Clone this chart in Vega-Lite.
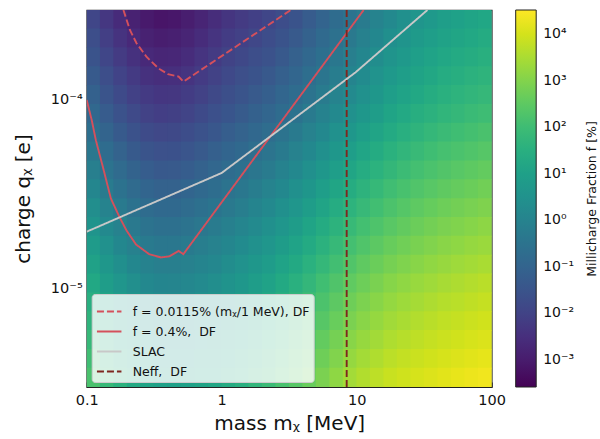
{
"$schema": "https://vega.github.io/schema/vega-lite/v6.json",
"width": 405, "height": 377,
"autosize": {"type": "none"},
"padding": {"left": 86.7, "top": 10, "right": 108.3, "bottom": 52},
"background": "white",
"config": {
  "font": "DejaVu Sans",
  "view": {"stroke": "#222222", "strokeWidth": 1.2},
  "axis": {"grid": false, "domain": false, "tickColor": "#222222", "labelColor": "#111111", "titleColor": "#111111", "titleFontWeight": "normal", "labelFont": "DejaVu Sans", "titleFont": "DejaVu Sans"},
  "legend": {"labelFont": "DejaVu Sans", "titleFont": "DejaVu Sans"}
},
"datasets": {
"heat": [
{"m":0.1122,"q":2.673e-4,"lf":-1.90},{"m":0.1122,"q":2.123e-4,"lf":-1.70},{"m":0.1122,"q":1.687e-4,"lf":-1.51},{"m":0.1122,"q":1.34e-4,"lf":-1.31},{"m":0.1122,"q":1.064e-4,"lf":-1.11},{"m":0.1122,"q":8.454e-5,"lf":-0.88},{"m":0.1122,"q":6.715e-5,"lf":-0.63},{"m":0.1122,"q":5.334e-5,"lf":-0.38},{"m":0.1122,"q":4.237e-5,"lf":-0.12},{"m":0.1122,"q":3.366e-5,"lf":0.13},{"m":0.1122,"q":2.673e-5,"lf":0.37},{"m":0.1122,"q":2.123e-5,"lf":0.60},{"m":0.1122,"q":1.687e-5,"lf":0.83},{"m":0.1122,"q":1.34e-5,"lf":1.06},{"m":0.1122,"q":1.064e-5,"lf":1.29},{"m":0.1122,"q":8.454e-6,"lf":1.50},{"m":0.1122,"q":6.715e-6,"lf":1.67},{"m":0.1122,"q":5.334e-6,"lf":1.85},{"m":0.1122,"q":4.237e-6,"lf":2.03},{"m":0.1122,"q":3.366e-6,"lf":2.20},
{"m":0.1413,"q":2.673e-4,"lf":-2.30},{"m":0.1413,"q":2.123e-4,"lf":-2.10},{"m":0.1413,"q":1.687e-4,"lf":-1.90},{"m":0.1413,"q":1.34e-4,"lf":-1.70},{"m":0.1413,"q":1.064e-4,"lf":-1.50},{"m":0.1413,"q":8.454e-5,"lf":-1.27},{"m":0.1413,"q":6.715e-5,"lf":-1.02},{"m":0.1413,"q":5.334e-5,"lf":-0.76},{"m":0.1413,"q":4.237e-5,"lf":-0.51},{"m":0.1413,"q":3.366e-5,"lf":-0.25},{"m":0.1413,"q":2.673e-5,"lf":-0.01},{"m":0.1413,"q":2.123e-5,"lf":0.23},{"m":0.1413,"q":1.687e-5,"lf":0.46},{"m":0.1413,"q":1.34e-5,"lf":0.69},{"m":0.1413,"q":1.064e-5,"lf":0.92},{"m":0.1413,"q":8.454e-6,"lf":1.13},{"m":0.1413,"q":6.715e-6,"lf":1.31},{"m":0.1413,"q":5.334e-6,"lf":1.49},{"m":0.1413,"q":4.237e-6,"lf":1.66},{"m":0.1413,"q":3.366e-6,"lf":1.84},
{"m":0.1778,"q":2.673e-4,"lf":-2.60},{"m":0.1778,"q":2.123e-4,"lf":-2.40},{"m":0.1778,"q":1.687e-4,"lf":-2.20},{"m":0.1778,"q":1.34e-4,"lf":-1.99},{"m":0.1778,"q":1.064e-4,"lf":-1.79},{"m":0.1778,"q":8.454e-5,"lf":-1.56},{"m":0.1778,"q":6.715e-5,"lf":-1.31},{"m":0.1778,"q":5.334e-5,"lf":-1.05},{"m":0.1778,"q":4.237e-5,"lf":-0.79},{"m":0.1778,"q":3.366e-5,"lf":-0.53},{"m":0.1778,"q":2.673e-5,"lf":-0.29},{"m":0.1778,"q":2.123e-5,"lf":-0.05},{"m":0.1778,"q":1.687e-5,"lf":0.18},{"m":0.1778,"q":1.34e-5,"lf":0.42},{"m":0.1778,"q":1.064e-5,"lf":0.65},{"m":0.1778,"q":8.454e-6,"lf":0.86},{"m":0.1778,"q":6.715e-6,"lf":1.04},{"m":0.1778,"q":5.334e-6,"lf":1.22},{"m":0.1778,"q":4.237e-6,"lf":1.40},{"m":0.1778,"q":3.366e-6,"lf":1.58},
{"m":0.2239,"q":2.673e-4,"lf":-2.85},{"m":0.2239,"q":2.123e-4,"lf":-2.65},{"m":0.2239,"q":1.687e-4,"lf":-2.45},{"m":0.2239,"q":1.34e-4,"lf":-2.24},{"m":0.2239,"q":1.064e-4,"lf":-2.04},{"m":0.2239,"q":8.454e-5,"lf":-1.81},{"m":0.2239,"q":6.715e-5,"lf":-1.56},{"m":0.2239,"q":5.334e-5,"lf":-1.30},{"m":0.2239,"q":4.237e-5,"lf":-1.04},{"m":0.2239,"q":3.366e-5,"lf":-0.78},{"m":0.2239,"q":2.673e-5,"lf":-0.54},{"m":0.2239,"q":2.123e-5,"lf":-0.30},{"m":0.2239,"q":1.687e-5,"lf":-0.07},{"m":0.2239,"q":1.34e-5,"lf":0.17},{"m":0.2239,"q":1.064e-5,"lf":0.40},{"m":0.2239,"q":8.454e-6,"lf":0.61},{"m":0.2239,"q":6.715e-6,"lf":0.79},{"m":0.2239,"q":5.334e-6,"lf":0.97},{"m":0.2239,"q":4.237e-6,"lf":1.15},{"m":0.2239,"q":3.366e-6,"lf":1.33},
{"m":0.2818,"q":2.673e-4,"lf":-3.05},{"m":0.2818,"q":2.123e-4,"lf":-2.85},{"m":0.2818,"q":1.687e-4,"lf":-2.65},{"m":0.2818,"q":1.34e-4,"lf":-2.44},{"m":0.2818,"q":1.064e-4,"lf":-2.24},{"m":0.2818,"q":8.454e-5,"lf":-2.01},{"m":0.2818,"q":6.715e-5,"lf":-1.76},{"m":0.2818,"q":5.334e-5,"lf":-1.50},{"m":0.2818,"q":4.237e-5,"lf":-1.24},{"m":0.2818,"q":3.366e-5,"lf":-0.98},{"m":0.2818,"q":2.673e-5,"lf":-0.74},{"m":0.2818,"q":2.123e-5,"lf":-0.50},{"m":0.2818,"q":1.687e-5,"lf":-0.27},{"m":0.2818,"q":1.34e-5,"lf":-0.03},{"m":0.2818,"q":1.064e-5,"lf":0.20},{"m":0.2818,"q":8.454e-6,"lf":0.41},{"m":0.2818,"q":6.715e-6,"lf":0.59},{"m":0.2818,"q":5.334e-6,"lf":0.77},{"m":0.2818,"q":4.237e-6,"lf":0.95},{"m":0.2818,"q":3.366e-6,"lf":1.13},
{"m":0.3548,"q":2.673e-4,"lf":-3.15},{"m":0.3548,"q":2.123e-4,"lf":-2.95},{"m":0.3548,"q":1.687e-4,"lf":-2.75},{"m":0.3548,"q":1.34e-4,"lf":-2.54},{"m":0.3548,"q":1.064e-4,"lf":-2.34},{"m":0.3548,"q":8.454e-5,"lf":-2.11},{"m":0.3548,"q":6.715e-5,"lf":-1.86},{"m":0.3548,"q":5.334e-5,"lf":-1.60},{"m":0.3548,"q":4.237e-5,"lf":-1.34},{"m":0.3548,"q":3.366e-5,"lf":-1.08},{"m":0.3548,"q":2.673e-5,"lf":-0.84},{"m":0.3548,"q":2.123e-5,"lf":-0.60},{"m":0.3548,"q":1.687e-5,"lf":-0.37},{"m":0.3548,"q":1.34e-5,"lf":-0.13},{"m":0.3548,"q":1.064e-5,"lf":0.10},{"m":0.3548,"q":8.454e-6,"lf":0.31},{"m":0.3548,"q":6.715e-6,"lf":0.49},{"m":0.3548,"q":5.334e-6,"lf":0.67},{"m":0.3548,"q":4.237e-6,"lf":0.85},{"m":0.3548,"q":3.366e-6,"lf":1.03},
{"m":0.4467,"q":2.673e-4,"lf":-3.10},{"m":0.4467,"q":2.123e-4,"lf":-2.90},{"m":0.4467,"q":1.687e-4,"lf":-2.71},{"m":0.4467,"q":1.34e-4,"lf":-2.51},{"m":0.4467,"q":1.064e-4,"lf":-2.31},{"m":0.4467,"q":8.454e-5,"lf":-2.08},{"m":0.4467,"q":6.715e-5,"lf":-1.83},{"m":0.4467,"q":5.334e-5,"lf":-1.58},{"m":0.4467,"q":4.237e-5,"lf":-1.32},{"m":0.4467,"q":3.366e-5,"lf":-1.07},{"m":0.4467,"q":2.673e-5,"lf":-0.83},{"m":0.4467,"q":2.123e-5,"lf":-0.60},{"m":0.4467,"q":1.687e-5,"lf":-0.37},{"m":0.4467,"q":1.34e-5,"lf":-0.14},{"m":0.4467,"q":1.064e-5,"lf":0.09},{"m":0.4467,"q":8.454e-6,"lf":0.30},{"m":0.4467,"q":6.715e-6,"lf":0.47},{"m":0.4467,"q":5.334e-6,"lf":0.65},{"m":0.4467,"q":4.237e-6,"lf":0.83},{"m":0.4467,"q":3.366e-6,"lf":1.00},
{"m":0.5623,"q":2.673e-4,"lf":-2.95},{"m":0.5623,"q":2.123e-4,"lf":-2.76},{"m":0.5623,"q":1.687e-4,"lf":-2.57},{"m":0.5623,"q":1.34e-4,"lf":-2.38},{"m":0.5623,"q":1.064e-4,"lf":-2.18},{"m":0.5623,"q":8.454e-5,"lf":-1.96},{"m":0.5623,"q":6.715e-5,"lf":-1.72},{"m":0.5623,"q":5.334e-5,"lf":-1.47},{"m":0.5623,"q":4.237e-5,"lf":-1.23},{"m":0.5623,"q":3.366e-5,"lf":-0.98},{"m":0.5623,"q":2.673e-5,"lf":-0.74},{"m":0.5623,"q":2.123e-5,"lf":-0.52},{"m":0.5623,"q":1.687e-5,"lf":-0.29},{"m":0.5623,"q":1.34e-5,"lf":-0.07},{"m":0.5623,"q":1.064e-5,"lf":0.16},{"m":0.5623,"q":8.454e-6,"lf":0.35},{"m":0.5623,"q":6.715e-6,"lf":0.52},{"m":0.5623,"q":5.334e-6,"lf":0.70},{"m":0.5623,"q":4.237e-6,"lf":0.87},{"m":0.5623,"q":3.366e-6,"lf":1.04},
{"m":0.7079,"q":2.673e-4,"lf":-2.76},{"m":0.7079,"q":2.123e-4,"lf":-2.57},{"m":0.7079,"q":1.687e-4,"lf":-2.38},{"m":0.7079,"q":1.34e-4,"lf":-2.19},{"m":0.7079,"q":1.064e-4,"lf":-2.01},{"m":0.7079,"q":8.454e-5,"lf":-1.79},{"m":0.7079,"q":6.715e-5,"lf":-1.56},{"m":0.7079,"q":5.334e-5,"lf":-1.32},{"m":0.7079,"q":4.237e-5,"lf":-1.08},{"m":0.7079,"q":3.366e-5,"lf":-0.84},{"m":0.7079,"q":2.673e-5,"lf":-0.61},{"m":0.7079,"q":2.123e-5,"lf":-0.39},{"m":0.7079,"q":1.687e-5,"lf":-0.17},{"m":0.7079,"q":1.34e-5,"lf":0.05},{"m":0.7079,"q":1.064e-5,"lf":0.26},{"m":0.7079,"q":8.454e-6,"lf":0.46},{"m":0.7079,"q":6.715e-6,"lf":0.62},{"m":0.7079,"q":5.334e-6,"lf":0.79},{"m":0.7079,"q":4.237e-6,"lf":0.96},{"m":0.7079,"q":3.366e-6,"lf":1.12},
{"m":0.8913,"q":2.673e-4,"lf":-2.56},{"m":0.8913,"q":2.123e-4,"lf":-2.38},{"m":0.8913,"q":1.687e-4,"lf":-2.20},{"m":0.8913,"q":1.34e-4,"lf":-2.01},{"m":0.8913,"q":1.064e-4,"lf":-1.83},{"m":0.8913,"q":8.454e-5,"lf":-1.62},{"m":0.8913,"q":6.715e-5,"lf":-1.39},{"m":0.8913,"q":5.334e-5,"lf":-1.16},{"m":0.8913,"q":4.237e-5,"lf":-0.93},{"m":0.8913,"q":3.366e-5,"lf":-0.70},{"m":0.8913,"q":2.673e-5,"lf":-0.47},{"m":0.8913,"q":2.123e-5,"lf":-0.26},{"m":0.8913,"q":1.687e-5,"lf":-0.05},{"m":0.8913,"q":1.34e-5,"lf":0.16},{"m":0.8913,"q":1.064e-5,"lf":0.38},{"m":0.8913,"q":8.454e-6,"lf":0.56},{"m":0.8913,"q":6.715e-6,"lf":0.72},{"m":0.8913,"q":5.334e-6,"lf":0.89},{"m":0.8913,"q":4.237e-6,"lf":1.05},{"m":0.8913,"q":3.366e-6,"lf":1.21},
{"m":1.122,"q":2.673e-4,"lf":-2.36},{"m":1.122,"q":2.123e-4,"lf":-2.18},{"m":1.122,"q":1.687e-4,"lf":-2.00},{"m":1.122,"q":1.34e-4,"lf":-1.82},{"m":1.122,"q":1.064e-4,"lf":-1.64},{"m":1.122,"q":8.454e-5,"lf":-1.44},{"m":1.122,"q":6.715e-5,"lf":-1.21},{"m":1.122,"q":5.334e-5,"lf":-0.98},{"m":1.122,"q":4.237e-5,"lf":-0.75},{"m":1.122,"q":3.366e-5,"lf":-0.52},{"m":1.122,"q":2.673e-5,"lf":-0.30},{"m":1.122,"q":2.123e-5,"lf":-0.09},{"m":1.122,"q":1.687e-5,"lf":0.13},{"m":1.122,"q":1.34e-5,"lf":0.34},{"m":1.122,"q":1.064e-5,"lf":0.55},{"m":1.122,"q":8.454e-6,"lf":0.73},{"m":1.122,"q":6.715e-6,"lf":0.89},{"m":1.122,"q":5.334e-6,"lf":1.05},{"m":1.122,"q":4.237e-6,"lf":1.21},{"m":1.122,"q":3.366e-6,"lf":1.37},
{"m":1.413,"q":2.673e-4,"lf":-2.21},{"m":1.413,"q":2.123e-4,"lf":-2.03},{"m":1.413,"q":1.687e-4,"lf":-1.85},{"m":1.413,"q":1.34e-4,"lf":-1.67},{"m":1.413,"q":1.064e-4,"lf":-1.49},{"m":1.413,"q":8.454e-5,"lf":-1.29},{"m":1.413,"q":6.715e-5,"lf":-1.06},{"m":1.413,"q":5.334e-5,"lf":-0.83},{"m":1.413,"q":4.237e-5,"lf":-0.60},{"m":1.413,"q":3.366e-5,"lf":-0.37},{"m":1.413,"q":2.673e-5,"lf":-0.15},{"m":1.413,"q":2.123e-5,"lf":0.07},{"m":1.413,"q":1.687e-5,"lf":0.28},{"m":1.413,"q":1.34e-5,"lf":0.49},{"m":1.413,"q":1.064e-5,"lf":0.70},{"m":1.413,"q":8.454e-6,"lf":0.88},{"m":1.413,"q":6.715e-6,"lf":1.04},{"m":1.413,"q":5.334e-6,"lf":1.20},{"m":1.413,"q":4.237e-6,"lf":1.36},{"m":1.413,"q":3.366e-6,"lf":1.52},
{"m":1.778,"q":2.673e-4,"lf":-2.06},{"m":1.778,"q":2.123e-4,"lf":-1.87},{"m":1.778,"q":1.687e-4,"lf":-1.69},{"m":1.778,"q":1.34e-4,"lf":-1.51},{"m":1.778,"q":1.064e-4,"lf":-1.32},{"m":1.778,"q":8.454e-5,"lf":-1.11},{"m":1.778,"q":6.715e-5,"lf":-0.88},{"m":1.778,"q":5.334e-5,"lf":-0.65},{"m":1.778,"q":4.237e-5,"lf":-0.41},{"m":1.778,"q":3.366e-5,"lf":-0.18},{"m":1.778,"q":2.673e-5,"lf":0.05},{"m":1.778,"q":2.123e-5,"lf":0.26},{"m":1.778,"q":1.687e-5,"lf":0.48},{"m":1.778,"q":1.34e-5,"lf":0.69},{"m":1.778,"q":1.064e-5,"lf":0.90},{"m":1.778,"q":8.454e-6,"lf":1.09},{"m":1.778,"q":6.715e-6,"lf":1.26},{"m":1.778,"q":5.334e-6,"lf":1.42},{"m":1.778,"q":4.237e-6,"lf":1.58},{"m":1.778,"q":3.366e-6,"lf":1.75},
{"m":2.239,"q":2.673e-4,"lf":-1.91},{"m":2.239,"q":2.123e-4,"lf":-1.72},{"m":2.239,"q":1.687e-4,"lf":-1.54},{"m":2.239,"q":1.34e-4,"lf":-1.35},{"m":2.239,"q":1.064e-4,"lf":-1.17},{"m":2.239,"q":8.454e-5,"lf":-0.95},{"m":2.239,"q":6.715e-5,"lf":-0.72},{"m":2.239,"q":5.334e-5,"lf":-0.48},{"m":2.239,"q":4.237e-5,"lf":-0.24},{"m":2.239,"q":3.366e-5,"lf":-0.01},{"m":2.239,"q":2.673e-5,"lf":0.22},{"m":2.239,"q":2.123e-5,"lf":0.44},{"m":2.239,"q":1.687e-5,"lf":0.65},{"m":2.239,"q":1.34e-5,"lf":0.87},{"m":2.239,"q":1.064e-5,"lf":1.08},{"m":2.239,"q":8.454e-6,"lf":1.28},{"m":2.239,"q":6.715e-6,"lf":1.44},{"m":2.239,"q":5.334e-6,"lf":1.61},{"m":2.239,"q":4.237e-6,"lf":1.77},{"m":2.239,"q":3.366e-6,"lf":1.93},
{"m":2.818,"q":2.673e-4,"lf":-1.71},{"m":2.818,"q":2.123e-4,"lf":-1.52},{"m":2.818,"q":1.687e-4,"lf":-1.33},{"m":2.818,"q":1.34e-4,"lf":-1.14},{"m":2.818,"q":1.064e-4,"lf":-0.96},{"m":2.818,"q":8.454e-5,"lf":-0.74},{"m":2.818,"q":6.715e-5,"lf":-0.51},{"m":2.818,"q":5.334e-5,"lf":-0.27},{"m":2.818,"q":4.237e-5,"lf":-0.03},{"m":2.818,"q":3.366e-5,"lf":0.21},{"m":2.818,"q":2.673e-5,"lf":0.44},{"m":2.818,"q":2.123e-5,"lf":0.66},{"m":2.818,"q":1.687e-5,"lf":0.88},{"m":2.818,"q":1.34e-5,"lf":1.10},{"m":2.818,"q":1.064e-5,"lf":1.31},{"m":2.818,"q":8.454e-6,"lf":1.51},{"m":2.818,"q":6.715e-6,"lf":1.67},{"m":2.818,"q":5.334e-6,"lf":1.84},{"m":2.818,"q":4.237e-6,"lf":2.01},{"m":2.818,"q":3.366e-6,"lf":2.17},
{"m":3.548,"q":2.673e-4,"lf":-1.51},{"m":3.548,"q":2.123e-4,"lf":-1.32},{"m":3.548,"q":1.687e-4,"lf":-1.13},{"m":3.548,"q":1.34e-4,"lf":-0.94},{"m":3.548,"q":1.064e-4,"lf":-0.75},{"m":3.548,"q":8.454e-5,"lf":-0.53},{"m":3.548,"q":6.715e-5,"lf":-0.29},{"m":3.548,"q":5.334e-5,"lf":-0.05},{"m":3.548,"q":4.237e-5,"lf":0.19},{"m":3.548,"q":3.366e-5,"lf":0.43},{"m":3.548,"q":2.673e-5,"lf":0.66},{"m":3.548,"q":2.123e-5,"lf":0.88},{"m":3.548,"q":1.687e-5,"lf":1.10},{"m":3.548,"q":1.34e-5,"lf":1.32},{"m":3.548,"q":1.064e-5,"lf":1.54},{"m":3.548,"q":8.454e-6,"lf":1.74},{"m":3.548,"q":6.715e-6,"lf":1.91},{"m":3.548,"q":5.334e-6,"lf":2.08},{"m":3.548,"q":4.237e-6,"lf":2.24},{"m":3.548,"q":3.366e-6,"lf":2.41},
{"m":4.467,"q":2.673e-4,"lf":-1.26},{"m":4.467,"q":2.123e-4,"lf":-1.07},{"m":4.467,"q":1.687e-4,"lf":-0.88},{"m":4.467,"q":1.34e-4,"lf":-0.69},{"m":4.467,"q":1.064e-4,"lf":-0.50},{"m":4.467,"q":8.454e-5,"lf":-0.28},{"m":4.467,"q":6.715e-5,"lf":-0.04},{"m":4.467,"q":5.334e-5,"lf":0.20},{"m":4.467,"q":4.237e-5,"lf":0.44},{"m":4.467,"q":3.366e-5,"lf":0.68},{"m":4.467,"q":2.673e-5,"lf":0.91},{"m":4.467,"q":2.123e-5,"lf":1.13},{"m":4.467,"q":1.687e-5,"lf":1.35},{"m":4.467,"q":1.34e-5,"lf":1.57},{"m":4.467,"q":1.064e-5,"lf":1.79},{"m":4.467,"q":8.454e-6,"lf":1.99},{"m":4.467,"q":6.715e-6,"lf":2.16},{"m":4.467,"q":5.334e-6,"lf":2.33},{"m":4.467,"q":4.237e-6,"lf":2.49},{"m":4.467,"q":3.366e-6,"lf":2.66},
{"m":5.623,"q":2.673e-4,"lf":-1.01},{"m":5.623,"q":2.123e-4,"lf":-0.82},{"m":5.623,"q":1.687e-4,"lf":-0.63},{"m":5.623,"q":1.34e-4,"lf":-0.44},{"m":5.623,"q":1.064e-4,"lf":-0.25},{"m":5.623,"q":8.454e-5,"lf":-0.03},{"m":5.623,"q":6.715e-5,"lf":0.21},{"m":5.623,"q":5.334e-5,"lf":0.45},{"m":5.623,"q":4.237e-5,"lf":0.69},{"m":5.623,"q":3.366e-5,"lf":0.93},{"m":5.623,"q":2.673e-5,"lf":1.16},{"m":5.623,"q":2.123e-5,"lf":1.38},{"m":5.623,"q":1.687e-5,"lf":1.60},{"m":5.623,"q":1.34e-5,"lf":1.82},{"m":5.623,"q":1.064e-5,"lf":2.04},{"m":5.623,"q":8.454e-6,"lf":2.24},{"m":5.623,"q":6.715e-6,"lf":2.41},{"m":5.623,"q":5.334e-6,"lf":2.58},{"m":5.623,"q":4.237e-6,"lf":2.74},{"m":5.623,"q":3.366e-6,"lf":2.91},
{"m":7.079,"q":2.673e-4,"lf":-0.76},{"m":7.079,"q":2.123e-4,"lf":-0.57},{"m":7.079,"q":1.687e-4,"lf":-0.38},{"m":7.079,"q":1.34e-4,"lf":-0.19},{"m":7.079,"q":1.064e-4,"lf":0.00},{"m":7.079,"q":8.454e-5,"lf":0.22},{"m":7.079,"q":6.715e-5,"lf":0.46},{"m":7.079,"q":5.334e-5,"lf":0.70},{"m":7.079,"q":4.237e-5,"lf":0.94},{"m":7.079,"q":3.366e-5,"lf":1.18},{"m":7.079,"q":2.673e-5,"lf":1.41},{"m":7.079,"q":2.123e-5,"lf":1.63},{"m":7.079,"q":1.687e-5,"lf":1.85},{"m":7.079,"q":1.34e-5,"lf":2.07},{"m":7.079,"q":1.064e-5,"lf":2.29},{"m":7.079,"q":8.454e-6,"lf":2.49},{"m":7.079,"q":6.715e-6,"lf":2.66},{"m":7.079,"q":5.334e-6,"lf":2.83},{"m":7.079,"q":4.237e-6,"lf":2.99},{"m":7.079,"q":3.366e-6,"lf":3.16},
{"m":8.913,"q":2.673e-4,"lf":-0.51},{"m":8.913,"q":2.123e-4,"lf":-0.32},{"m":8.913,"q":1.687e-4,"lf":-0.13},{"m":8.913,"q":1.34e-4,"lf":0.06},{"m":8.913,"q":1.064e-4,"lf":0.25},{"m":8.913,"q":8.454e-5,"lf":0.47},{"m":8.913,"q":6.715e-5,"lf":0.71},{"m":8.913,"q":5.334e-5,"lf":0.95},{"m":8.913,"q":4.237e-5,"lf":1.19},{"m":8.913,"q":3.366e-5,"lf":1.43},{"m":8.913,"q":2.673e-5,"lf":1.66},{"m":8.913,"q":2.123e-5,"lf":1.88},{"m":8.913,"q":1.687e-5,"lf":2.10},{"m":8.913,"q":1.34e-5,"lf":2.32},{"m":8.913,"q":1.064e-5,"lf":2.54},{"m":8.913,"q":8.454e-6,"lf":2.74},{"m":8.913,"q":6.715e-6,"lf":2.91},{"m":8.913,"q":5.334e-6,"lf":3.08},{"m":8.913,"q":4.237e-6,"lf":3.24},{"m":8.913,"q":3.366e-6,"lf":3.41},
{"m":11.22,"q":2.673e-4,"lf":-0.26},{"m":11.22,"q":2.123e-4,"lf":-0.07},{"m":11.22,"q":1.687e-4,"lf":0.11},{"m":11.22,"q":1.34e-4,"lf":0.30},{"m":11.22,"q":1.064e-4,"lf":0.48},{"m":11.22,"q":8.454e-5,"lf":0.70},{"m":11.22,"q":6.715e-5,"lf":0.93},{"m":11.22,"q":5.334e-5,"lf":1.17},{"m":11.22,"q":4.237e-5,"lf":1.41},{"m":11.22,"q":3.366e-5,"lf":1.64},{"m":11.22,"q":2.673e-5,"lf":1.87},{"m":11.22,"q":2.123e-5,"lf":2.09},{"m":11.22,"q":1.687e-5,"lf":2.30},{"m":11.22,"q":1.34e-5,"lf":2.52},{"m":11.22,"q":1.064e-5,"lf":2.73},{"m":11.22,"q":8.454e-6,"lf":2.93},{"m":11.22,"q":6.715e-6,"lf":3.09},{"m":11.22,"q":5.334e-6,"lf":3.26},{"m":11.22,"q":4.237e-6,"lf":3.42},{"m":11.22,"q":3.366e-6,"lf":3.58},
{"m":14.13,"q":2.673e-4,"lf":-0.01},{"m":14.13,"q":2.123e-4,"lf":0.17},{"m":14.13,"q":1.687e-4,"lf":0.35},{"m":14.13,"q":1.34e-4,"lf":0.53},{"m":14.13,"q":1.064e-4,"lf":0.71},{"m":14.13,"q":8.454e-5,"lf":0.92},{"m":14.13,"q":6.715e-5,"lf":1.15},{"m":14.13,"q":5.334e-5,"lf":1.38},{"m":14.13,"q":4.237e-5,"lf":1.61},{"m":14.13,"q":3.366e-5,"lf":1.84},{"m":14.13,"q":2.673e-5,"lf":2.06},{"m":14.13,"q":2.123e-5,"lf":2.27},{"m":14.13,"q":1.687e-5,"lf":2.48},{"m":14.13,"q":1.34e-5,"lf":2.69},{"m":14.13,"q":1.064e-5,"lf":2.90},{"m":14.13,"q":8.454e-6,"lf":3.08},{"m":14.13,"q":6.715e-6,"lf":3.24},{"m":14.13,"q":5.334e-6,"lf":3.40},{"m":14.13,"q":4.237e-6,"lf":3.56},{"m":14.13,"q":3.366e-6,"lf":3.72},
{"m":17.78,"q":2.673e-4,"lf":0.24},{"m":17.78,"q":2.123e-4,"lf":0.41},{"m":17.78,"q":1.687e-4,"lf":0.59},{"m":17.78,"q":1.34e-4,"lf":0.76},{"m":17.78,"q":1.064e-4,"lf":0.94},{"m":17.78,"q":8.454e-5,"lf":1.13},{"m":17.78,"q":6.715e-5,"lf":1.36},{"m":17.78,"q":5.334e-5,"lf":1.58},{"m":17.78,"q":4.237e-5,"lf":1.80},{"m":17.78,"q":3.366e-5,"lf":2.03},{"m":17.78,"q":2.673e-5,"lf":2.24},{"m":17.78,"q":2.123e-5,"lf":2.44},{"m":17.78,"q":1.687e-5,"lf":2.65},{"m":17.78,"q":1.34e-5,"lf":2.85},{"m":17.78,"q":1.064e-5,"lf":3.06},{"m":17.78,"q":8.454e-6,"lf":3.23},{"m":17.78,"q":6.715e-6,"lf":3.39},{"m":17.78,"q":5.334e-6,"lf":3.55},{"m":17.78,"q":4.237e-6,"lf":3.70},{"m":17.78,"q":3.366e-6,"lf":3.86},
{"m":22.39,"q":2.673e-4,"lf":0.43},{"m":22.39,"q":2.123e-4,"lf":0.60},{"m":22.39,"q":1.687e-4,"lf":0.77},{"m":22.39,"q":1.34e-4,"lf":0.94},{"m":22.39,"q":1.064e-4,"lf":1.11},{"m":22.39,"q":8.454e-5,"lf":1.30},{"m":22.39,"q":6.715e-5,"lf":1.52},{"m":22.39,"q":5.334e-5,"lf":1.74},{"m":22.39,"q":4.237e-5,"lf":1.95},{"m":22.39,"q":3.366e-5,"lf":2.17},{"m":22.39,"q":2.673e-5,"lf":2.38},{"m":22.39,"q":2.123e-5,"lf":2.57},{"m":22.39,"q":1.687e-5,"lf":2.77},{"m":22.39,"q":1.34e-5,"lf":2.97},{"m":22.39,"q":1.064e-5,"lf":3.17},{"m":22.39,"q":8.454e-6,"lf":3.34},{"m":22.39,"q":6.715e-6,"lf":3.49},{"m":22.39,"q":5.334e-6,"lf":3.64},{"m":22.39,"q":4.237e-6,"lf":3.79},{"m":22.39,"q":3.366e-6,"lf":3.94},
{"m":28.18,"q":2.673e-4,"lf":0.63},{"m":28.18,"q":2.123e-4,"lf":0.80},{"m":28.18,"q":1.687e-4,"lf":0.96},{"m":28.18,"q":1.34e-4,"lf":1.12},{"m":28.18,"q":1.064e-4,"lf":1.29},{"m":28.18,"q":8.454e-5,"lf":1.47},{"m":28.18,"q":6.715e-5,"lf":1.68},{"m":28.18,"q":5.334e-5,"lf":1.89},{"m":28.18,"q":4.237e-5,"lf":2.10},{"m":28.18,"q":3.366e-5,"lf":2.31},{"m":28.18,"q":2.673e-5,"lf":2.51},{"m":28.18,"q":2.123e-5,"lf":2.70},{"m":28.18,"q":1.687e-5,"lf":2.89},{"m":28.18,"q":1.34e-5,"lf":3.08},{"m":28.18,"q":1.064e-5,"lf":3.28},{"m":28.18,"q":8.454e-6,"lf":3.44},{"m":28.18,"q":6.715e-6,"lf":3.59},{"m":28.18,"q":5.334e-6,"lf":3.74},{"m":28.18,"q":4.237e-6,"lf":3.88},{"m":28.18,"q":3.366e-6,"lf":4.03},
{"m":35.48,"q":2.673e-4,"lf":0.78},{"m":35.48,"q":2.123e-4,"lf":0.94},{"m":35.48,"q":1.687e-4,"lf":1.10},{"m":35.48,"q":1.34e-4,"lf":1.26},{"m":35.48,"q":1.064e-4,"lf":1.42},{"m":35.48,"q":8.454e-5,"lf":1.60},{"m":35.48,"q":6.715e-5,"lf":1.81},{"m":35.48,"q":5.334e-5,"lf":2.01},{"m":35.48,"q":4.237e-5,"lf":2.22},{"m":35.48,"q":3.366e-5,"lf":2.42},{"m":35.48,"q":2.673e-5,"lf":2.62},{"m":35.48,"q":2.123e-5,"lf":2.80},{"m":35.48,"q":1.687e-5,"lf":2.99},{"m":35.48,"q":1.34e-5,"lf":3.18},{"m":35.48,"q":1.064e-5,"lf":3.37},{"m":35.48,"q":8.454e-6,"lf":3.53},{"m":35.48,"q":6.715e-6,"lf":3.67},{"m":35.48,"q":5.334e-6,"lf":3.82},{"m":35.48,"q":4.237e-6,"lf":3.96},{"m":35.48,"q":3.366e-6,"lf":4.10},
{"m":44.67,"q":2.673e-4,"lf":0.93},{"m":44.67,"q":2.123e-4,"lf":1.08},{"m":44.67,"q":1.687e-4,"lf":1.24},{"m":44.67,"q":1.34e-4,"lf":1.40},{"m":44.67,"q":1.064e-4,"lf":1.55},{"m":44.67,"q":8.454e-5,"lf":1.73},{"m":44.67,"q":6.715e-5,"lf":1.93},{"m":44.67,"q":5.334e-5,"lf":2.13},{"m":44.67,"q":4.237e-5,"lf":2.33},{"m":44.67,"q":3.366e-5,"lf":2.53},{"m":44.67,"q":2.673e-5,"lf":2.72},{"m":44.67,"q":2.123e-5,"lf":2.91},{"m":44.67,"q":1.687e-5,"lf":3.09},{"m":44.67,"q":1.34e-5,"lf":3.27},{"m":44.67,"q":1.064e-5,"lf":3.46},{"m":44.67,"q":8.454e-6,"lf":3.62},{"m":44.67,"q":6.715e-6,"lf":3.76},{"m":44.67,"q":5.334e-6,"lf":3.90},{"m":44.67,"q":4.237e-6,"lf":4.03},{"m":44.67,"q":3.366e-6,"lf":4.17},
{"m":56.23,"q":2.673e-4,"lf":1.03},{"m":56.23,"q":2.123e-4,"lf":1.18},{"m":56.23,"q":1.687e-4,"lf":1.34},{"m":56.23,"q":1.34e-4,"lf":1.49},{"m":56.23,"q":1.064e-4,"lf":1.65},{"m":56.23,"q":8.454e-5,"lf":1.82},{"m":56.23,"q":6.715e-5,"lf":2.02},{"m":56.23,"q":5.334e-5,"lf":2.22},{"m":56.23,"q":4.237e-5,"lf":2.42},{"m":56.23,"q":3.366e-5,"lf":2.61},{"m":56.23,"q":2.673e-5,"lf":2.80},{"m":56.23,"q":2.123e-5,"lf":2.98},{"m":56.23,"q":1.687e-5,"lf":3.16},{"m":56.23,"q":1.34e-5,"lf":3.35},{"m":56.23,"q":1.064e-5,"lf":3.53},{"m":56.23,"q":8.454e-6,"lf":3.68},{"m":56.23,"q":6.715e-6,"lf":3.82},{"m":56.23,"q":5.334e-6,"lf":3.96},{"m":56.23,"q":4.237e-6,"lf":4.10},{"m":56.23,"q":3.366e-6,"lf":4.24},
{"m":70.79,"q":2.673e-4,"lf":1.13},{"m":70.79,"q":2.123e-4,"lf":1.28},{"m":70.79,"q":1.687e-4,"lf":1.43},{"m":70.79,"q":1.34e-4,"lf":1.59},{"m":70.79,"q":1.064e-4,"lf":1.74},{"m":70.79,"q":8.454e-5,"lf":1.91},{"m":70.79,"q":6.715e-5,"lf":2.11},{"m":70.79,"q":5.334e-5,"lf":2.30},{"m":70.79,"q":4.237e-5,"lf":2.50},{"m":70.79,"q":3.366e-5,"lf":2.69},{"m":70.79,"q":2.673e-5,"lf":2.88},{"m":70.79,"q":2.123e-5,"lf":3.06},{"m":70.79,"q":1.687e-5,"lf":3.24},{"m":70.79,"q":1.34e-5,"lf":3.42},{"m":70.79,"q":1.064e-5,"lf":3.60},{"m":70.79,"q":8.454e-6,"lf":3.75},{"m":70.79,"q":6.715e-6,"lf":3.89},{"m":70.79,"q":5.334e-6,"lf":4.03},{"m":70.79,"q":4.237e-6,"lf":4.16},{"m":70.79,"q":3.366e-6,"lf":4.30},
{"m":89.13,"q":2.673e-4,"lf":1.23},{"m":89.13,"q":2.123e-4,"lf":1.38},{"m":89.13,"q":1.687e-4,"lf":1.53},{"m":89.13,"q":1.34e-4,"lf":1.68},{"m":89.13,"q":1.064e-4,"lf":1.83},{"m":89.13,"q":8.454e-5,"lf":2.00},{"m":89.13,"q":6.715e-5,"lf":2.20},{"m":89.13,"q":5.334e-5,"lf":2.39},{"m":89.13,"q":4.237e-5,"lf":2.58},{"m":89.13,"q":3.366e-5,"lf":2.78},{"m":89.13,"q":2.673e-5,"lf":2.96},{"m":89.13,"q":2.123e-5,"lf":3.14},{"m":89.13,"q":1.687e-5,"lf":3.31},{"m":89.13,"q":1.34e-5,"lf":3.49},{"m":89.13,"q":1.064e-5,"lf":3.67},{"m":89.13,"q":8.454e-6,"lf":3.82},{"m":89.13,"q":6.715e-6,"lf":3.96},{"m":89.13,"q":5.334e-6,"lf":4.09},{"m":89.13,"q":4.237e-6,"lf":4.22},{"m":89.13,"q":3.366e-6,"lf":4.36}
],
"curves": [
{"series":"f = 0.0115% (mᵪ/1 MeV), DF","o":1,"m":0.187,"q":3.0e-4},
{"series":"f = 0.0115% (mᵪ/1 MeV), DF","o":2,"m":0.209,"q":2.35e-4},
{"series":"f = 0.0115% (mᵪ/1 MeV), DF","o":3,"m":0.234,"q":2.0e-4},
{"series":"f = 0.0115% (mᵪ/1 MeV), DF","o":4,"m":0.278,"q":1.69e-4},
{"series":"f = 0.0115% (mᵪ/1 MeV), DF","o":5,"m":0.34,"q":1.47e-4},
{"series":"f = 0.0115% (mᵪ/1 MeV), DF","o":6,"m":0.40,"q":1.37e-4},
{"series":"f = 0.0115% (mᵪ/1 MeV), DF","o":7,"m":0.48,"q":1.33e-4},
{"series":"f = 0.0115% (mᵪ/1 MeV), DF","o":8,"m":0.52,"q":1.25e-4},
{"series":"f = 0.0115% (mᵪ/1 MeV), DF","o":9,"m":3.25,"q":3.0e-4},
{"series":"f = 0.4%,\u00a0 DF","o":1,"m":0.1,"q":1.0e-4},
{"series":"f = 0.4%,\u00a0 DF","o":2,"m":0.109,"q":7.8e-5},
{"series":"f = 0.4%,\u00a0 DF","o":3,"m":0.117,"q":6.1e-5},
{"series":"f = 0.4%,\u00a0 DF","o":4,"m":0.133,"q":4.3e-5},
{"series":"f = 0.4%,\u00a0 DF","o":5,"m":0.151,"q":3.0e-5},
{"series":"f = 0.4%,\u00a0 DF","o":6,"m":0.176,"q":2.37e-5},
{"series":"f = 0.4%,\u00a0 DF","o":7,"m":0.198,"q":2.02e-5},
{"series":"f = 0.4%,\u00a0 DF","o":8,"m":0.232,"q":1.71e-5},
{"series":"f = 0.4%,\u00a0 DF","o":9,"m":0.29,"q":1.52e-5},
{"series":"f = 0.4%,\u00a0 DF","o":10,"m":0.355,"q":1.46e-5},
{"series":"f = 0.4%,\u00a0 DF","o":11,"m":0.41,"q":1.48e-5},
{"series":"f = 0.4%,\u00a0 DF","o":12,"m":0.48,"q":1.58e-5},
{"series":"f = 0.4%,\u00a0 DF","o":13,"m":0.52,"q":1.52e-5},
{"series":"f = 0.4%,\u00a0 DF","o":14,"m":11.26,"q":3.0e-4},
{"series":"SLAC","o":1,"m":0.1,"q":2.0e-5},
{"series":"SLAC","o":2,"m":1.0,"q":4.1e-5},
{"series":"SLAC","o":3,"m":9.8,"q":1.4e-4},
{"series":"SLAC","o":4,"m":33.4,"q":3.0e-4},
{"series":"Neff,\u00a0 DF","o":1,"m":8.43,"q":3.0e-6},
{"series":"Neff,\u00a0 DF","o":2,"m":8.43,"q":3.0e-4}
]
},
"layer": [
{
  "data": {"name": "heat"},
  "mark": {"type": "rect", "width": 14.1, "height": 19.6, "clip": true},
  "encoding": {
    "x": {"field": "m", "type": "quantitative", "scale": {"type": "log", "domain": [0.1, 100], "nice": false},
      "axis": {"orient": "bottom", "values": [0.1, 1, 10, 100], "labelExpr": "datum.value < 0.5 ? '0.1' : datum.value < 5 ? '1' : datum.value < 50 ? '10' : '100'", "labelFlush": false, "tickSize": -5, "tickWidth": 1, "labelPadding": 11, "labelFontSize": 14.5, "title": "mass mᵪ [MeV]", "titleFontSize": 20, "titlePadding": 7}},
    "y": {"field": "q", "type": "quantitative", "scale": {"type": "log", "domain": [3e-6, 3e-4], "nice": false},
      "axis": {"orient": "left", "values": [1e-5, 1e-4], "labelExpr": "datum.value < 5e-5 ? '10⁻⁵' : '10⁻⁴'", "labelFlush": false, "tickSize": -5, "tickWidth": 1, "labelPadding": 9.5, "labelFontSize": 14.5, "title": "charge qᵪ [e]", "titleFontSize": 20, "titlePadding": 17}},
    "fill": {"field": "lf", "type": "quantitative", "scale": {"scheme": "viridis", "domain": [-3.58, 4.52]},
      "legend": {"orient": "right", "offset": 24.3, "padding": 0, "direction": "vertical", "gradientLength": 377, "gradientThickness": 20.5, "gradientStrokeColor": "#222222", "gradientStrokeWidth": 1, "values": [-3, -2, -1, 0, 1, 2, 3, 4], "labelOverlap": false, "labelExpr": "datum.value == 4 ? '10⁴' : datum.value == 3 ? '10³' : datum.value == 2 ? '10²' : datum.value == 1 ? '10¹' : datum.value == 0 ? '10⁰' : datum.value == -1 ? '10⁻¹' : datum.value == -2 ? '10⁻²' : '10⁻³'", "labelFontSize": 14, "labelOffset": 7, "labelColor": "#111111", "title": "Millicharge Fraction f [%]", "titleOrient": "right", "titleAnchor": "middle", "titleBaseline": "middle", "titleFontSize": 12.5, "titleFontWeight": "normal", "titleColor": "#111111", "titlePadding": 18,
        "encode": {"title": {"update": {"angle": {"value": 270}}}}}}
  }
},
{
  "data": {"name": "curves"},
  "mark": {"type": "line", "strokeWidth": 1.9, "clip": true},
  "encoding": {
    "x": {"field": "m", "type": "quantitative", "scale": {"type": "log", "domain": [0.1, 100], "nice": false},
      "axis": {"orient": "bottom", "values": [0.2,0.3,0.4,0.5,0.6,0.7,0.8,0.9,2,3,4,5,6,7,8,9,20,30,40,50,60,70,80,90], "labels": false, "tickSize": -2.8, "tickWidth": 0.8, "title": null}},
    "y": {"field": "q", "type": "quantitative", "scale": {"type": "log", "domain": [3e-6, 3e-4], "nice": false},
      "axis": {"orient": "left", "values": [4e-6,5e-6,6e-6,7e-6,8e-6,9e-6,2e-5,3e-5,4e-5,5e-5,6e-5,7e-5,8e-5,9e-5,2e-4], "labels": false, "tickSize": -2.8, "tickWidth": 0.8, "title": null}},
    "order": {"field": "o", "type": "quantitative"},
    "stroke": {"field": "series", "type": "nominal",
      "scale": {"domain": ["f = 0.0115% (mᵪ/1 MeV), DF", "f = 0.4%,\u00a0 DF", "SLAC", "Neff,\u00a0 DF"], "range": ["#d4505c", "#d4505c", "#c8c8c8", "#7e2620"]},
      "legend": {"orient": "bottom-left", "offset": 5, "title": null, "symbolType": "stroke", "symbolSize": 600, "symbolStrokeWidth": 2, "labelFontSize": 12.5, "labelColor": "#111111", "labelOffset": 10, "labelLimit": 400, "rowPadding": -5.5, "padding": 4, "fillColor": "rgba(255,255,255,0.8)", "strokeColor": "#cccccc", "cornerRadius": 3}},
    "strokeDash": {"field": "series", "type": "nominal",
      "scale": {"domain": ["f = 0.0115% (mᵪ/1 MeV), DF", "f = 0.4%,\u00a0 DF", "SLAC", "Neff,\u00a0 DF"], "range": [[7, 3], [1, 0], [1, 0], [7, 3]]},
      "legend": {"orient": "bottom-left", "offset": 5, "title": null, "symbolType": "stroke", "symbolSize": 600, "symbolStrokeWidth": 2, "labelFontSize": 12.5, "labelColor": "#111111", "labelOffset": 10, "labelLimit": 400, "rowPadding": -5.5, "padding": 4, "fillColor": "rgba(255,255,255,0.8)", "strokeColor": "#cccccc", "cornerRadius": 3}}
  }
}
],
"resolve": {"axis": {"x": "independent", "y": "independent"}}
}
